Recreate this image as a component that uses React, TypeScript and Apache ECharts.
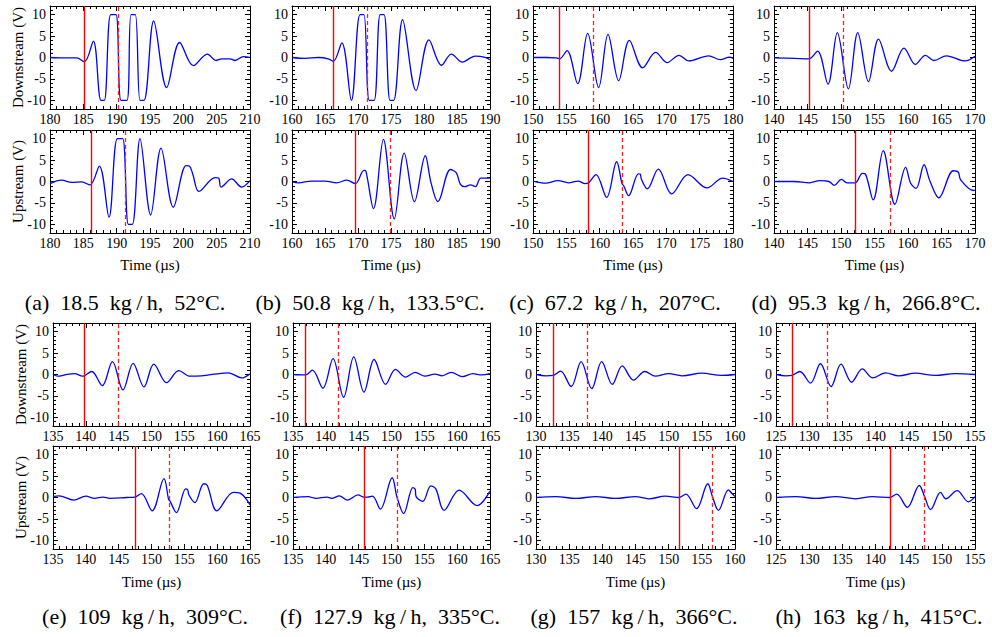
import React, { useEffect, useRef } from "react";
import * as echarts from "echarts";

// ---- x-axis starts (each window spans 30 µs) ----
const xMins = [180, 160, 150, 140, 135, 135, 130, 125];

const captions = [
  "(a)  18.5  kg\u2009/\u2009h,  52°C.",
  "(b)  50.8  kg\u2009/\u2009h,  133.5°C.",
  "(c)  67.2  kg\u2009/\u2009h,  207°C.",
  "(d)  95.3  kg\u2009/\u2009h,  266.8°C.",
  "(e)  109  kg\u2009/\u2009h,  309°C.",
  "(f)  127.9  kg\u2009/\u2009h,  335°C.",
  "(g)  157  kg\u2009/\u2009h,  366°C.",
  "(h)  163  kg\u2009/\u2009h,  415°C.",
];

// ---- marker times (µs): solid = onset, dashed = arrival ----
const onsetDown = [185.15, 166.25, 154.0, 145.2, 139.8, 136.9, 132.6, 127.4];
const arrivalDown = [190.25, 171.4, 159.05, 150.3, 145.0, 141.9, 137.8, 132.8];
const onsetUp = [186.2, 169.6, 158.35, 152.1, 147.5, 145.8, 151.6, 142.2];
const arrivalUp = [191.3, 174.9, 163.4, 157.3, 152.7, 150.85, 156.6, 147.4];

// ---- waveforms: [time µs, volts] ----
const aDown = [[180,0],[182,-0.1],[184,-0.1],[185.15,-1.0],[186.5,3.8],[187.65,-10],[188.15,-10],[189.1,10],[189.9,10],[190.65,-10],[191.55,-10],[192.15,10],[192.8,10],[193.5,-10],[194.1,-10],[195.55,8.5],[197.5,-7.0],[199.45,3.5],[201.5,-1.9],[203.6,0.8],[204.9,-0.7],[205.75,-0.3],[207,-0.3],[207.75,-0.7],[209,0.2],[210,0]];
const aUp = [[180,-0.5],[181.75,0.3],[183.25,-0.2],[184.75,-0.1],[186.0,-0.8],[187.4,3.6],[188.85,-8.3],[190.1,10],[190.9,10],[191.75,-10],[192.35,-10],[193.5,10],[195.1,-7.8],[196.65,7.8],[198.5,-6.0],[200.4,3.7],[200.9,3.6],[201.4,1.8],[202.35,-2.3],[204.75,0.9],[205.3,0.8],[205.65,-1.3],[207.25,0.6],[208.75,-1.3],[210,0.2]];
const bDown = [[160,0],[162,-0.2],[164,0],[165.5,-0.3],[166.25,-0.9],[167.55,3.4],[169.0,-10],[170.3,10],[170.9,10],[171.7,-10],[172.45,-10],[173.35,10],[173.95,10],[174.85,-10],[175.4,-10],[176.75,8.8],[178.8,-7.7],[180.75,4.1],[182.65,-1.8],[184.15,0.8],[185.8,-1.1],[187.05,-0.1],[187.8,0.3],[189.1,0.1],[190,-0.5]];
const bUp = [[160,-0.1],[161,-0.3],[162.95,0.1],[165,0.1],[166.75,-0.3],[168.3,0.3],[169.6,-0.5],[170.9,2.6],[171.2,2.4],[172.35,-6.3],[173.85,9.8],[175.5,-8.7],[177,6.6],[178.55,-4.7],[180.2,6.0],[181.05,-0.2],[182.1,-4.7],[184,2.8],[184.9,2.0],[185.5,-0.6],[186.15,-1.2],[187.05,-0.8],[187.8,-1.2],[188.6,0.8],[190,0.8]];
const cDown = [[150,0],[152,0],[153.5,-0.1],[154.0,-0.3],[155.1,1.6],[156.7,-6.1],[158.2,5.6],[159.85,-7.0],[161.25,5.4],[162.85,-5.4],[164.45,4.0],[166.45,-2.4],[168.4,1.2],[170.1,-1.2],[171.9,0.5],[173.35,-0.8],[176.35,0.4],[178.1,-0.5],[179.5,0.1],[180,-0.2]];
const cUp = [[150,0.1],[151.9,-0.4],[153.75,0.2],[155.3,-0.3],[156.8,0.1],[157.8,-0.5],[158.35,-0.3],[159.45,1.6],[161.05,-3.7],[162.55,4.6],[163.35,-0.5],[163.6,-1.0],[164.35,-3.3],[165.8,1.8],[166.1,1.7],[166.25,0.6],[167.15,-1.7],[168.8,2.9],[170.8,-2.9],[173.25,1.6],[176.1,-1.5],[178.45,0.8],[180,0]];
const dDown = [[140,-0.1],[143,-0.2],[145.2,-0.3],[146.5,1.5],[148.05,-6.2],[149.45,5.8],[151.1,-7.3],[152.5,5.8],[154.1,-5.6],[155.6,4.3],[157.55,-3.2],[159.4,2.2],[161.1,-1.6],[162.6,0.5],[163.85,-0.7],[165.75,0.4],[168.5,-0.8],[170,0.3]];
const dUp = [[140,0],[143,0],[145.3,-0.3],[146.8,0.2],[148.2,0],[149.0,-0.9],[150.05,0.5],[150.9,-0.3],[152.1,-0.3],[153.2,1.9],[153.6,1.8],[154.8,-4.3],[156.3,7.2],[158.05,-5.3],[159.65,3.3],[160.4,-0.4],[161.2,-1.6],[162.4,3.9],[163.3,0],[164.6,-3.8],[166.75,2.5],[167.5,2.2],[167.85,0.4],[169.75,-2.1],[170,-2.0]];
const eDown = [[135,0],[135.75,-0.4],[136.8,-0.1],[138.3,0.2],[139.5,-0.4],[139.8,-0.3],[140.9,0.7],[142.5,-2.6],[144.05,3.0],[145.65,-3.6],[147.2,2.6],[148.85,-2.9],[150.35,2.4],[152.3,-1.9],[154.15,0.9],[155.85,-0.4],[157.6,-0.3],[161.7,0.4],[163.75,-0.8],[165,0.2]];
const eUp = [[135,0.2],[135.9,0.4],[138.15,-0.6],[140,0.3],[141.35,-0.2],[142.6,0.1],[143.65,-0.2],[146.2,0],[147.5,0.1],[148.45,0.9],[150.1,-3.1],[151.9,4.4],[152.6,-0.4],[152.8,-0.8],[153.8,-3.5],[155.2,2.0],[155.5,1.8],[155.7,0.6],[156.6,-1.2],[157.95,3.2],[158.5,2.8],[159.95,-3.1],[162.45,1.2],[163.5,1.0],[165,-1.7]];
const fDown = [[135,0],[136.9,-0.1],[137.95,1.0],[139.55,-3.2],[141.1,3.7],[142.7,-5.3],[144.25,4.1],[145.8,-4.1],[147.35,3.5],[149.1,-2.3],[150.6,1.2],[152.15,-0.6],[153.6,0.5],[155.1,-0.4],[156.6,0.1],[157.7,-0.3],[159.1,0.5],[160.8,-0.5],[162.4,0.2],[163.7,-0.1],[165,0.2]];
const fUp = [[135,0],[137.3,0.2],[138.5,-0.2],[140.15,0.1],[140.9,-0.2],[142.05,0.4],[143.3,-0.6],[144.9,0.6],[145.8,0.1],[146.3,0.1],[147.1,0.3],[148.3,-2.7],[150.1,4.6],[150.85,0],[151.85,-3.7],[153.25,2.3],[153.6,1.9],[153.75,0.2],[154.75,-0.9],[156,2.7],[156.75,2.0],[158,-3.0],[160.3,1.7],[163.05,-1.9],[165,1.5]];
const gDown = [[130,0],[131.5,-0.3],[132.6,-0.2],[133.7,0.8],[135.3,-2.8],[136.8,3.0],[138.4,-3.3],[139.9,3.0],[141.5,-2.3],[143.0,2.0],[144.7,-1.3],[146.4,0.7],[148,-0.4],[150,0.2],[152,-0.3],[155,0.3],[158,-0.2],[160,0]];
const gUp = [[130,0],[133,0.2],[136,-0.2],[139,0.2],[142,-0.2],[145,0.2],[147,-0.3],[149.5,0.3],[151.6,0],[152.6,0.8],[154.2,-2.6],[155.9,3.2],[156.6,0.2],[157.5,-3.0],[159,1.8],[159.5,1.0],[160,0.2]];
const hDown = [[125,0],[126.5,-0.3],[127.4,-0.2],[128.6,0.7],[130.2,-2.0],[131.7,2.5],[133.3,-2.8],[134.8,2.4],[136.4,-1.8],[138,1.3],[139.6,-0.8],[141.5,0.4],[143.5,-0.3],[146,0.3],[149,-0.2],[152,0.2],[155,0]];
const hUp = [[125,0],[128,0.2],[131,-0.2],[134,0.2],[137,-0.3],[139.5,0.2],[142.2,0],[143.2,0.8],[144.8,-2.3],[146.6,2.8],[147.4,0.2],[148.3,-2.8],[149.8,1.2],[150.6,-0.3],[152.3,1.6],[154,-1.0],[155,0.2]];

const downData = [aDown, bDown, cDown, dDown, eDown, fDown, gDown, hDown];
const upData = [aUp, bUp, cUp, dUp, eUp, fUp, gUp, hUp];

const yTickValues = [-10, -5, 0, 5, 10];

// ---- layout ----
const colLeft = [[50, 292, 533, 774], [53, 293, 536, 776]];
const colWidth = [[200, 198, 200, 201], [197, 197, 199, 199]];
const rowTop = [[6, 130], [323, 446]];
const plotH = 103;
const captionX = [[125, 370, 615, 866], [145, 390, 634, 879]];
const captionY = [302, 616];
const timeY = [265, 582];

const SERIF = "Liberation Serif";

function buildOption() {
  const grid: any[] = [];
  const xAxis: any[] = [];
  const yAxis: any[] = [];
  const series: any[] = [];
  const graphic: any[] = [];

  for (let p = 0; p < 8; p++) {
    const row = p < 4 ? 0 : 1;
    const col = p % 4;
    const xMin = xMins[p];
    for (let k = 0; k < 2; k++) {
      const g = grid.length;
      const left = colLeft[row][col];
      const width = colWidth[row][col];
      const top = rowTop[row][k];
      grid.push({ left, top, width, height: plotH, containLabel: false });
      const xBase = {
        gridIndex: g,
        type: "value",
        min: xMin,
        max: xMin + 30,
        interval: 5,
        splitLine: { show: false },
        axisLine: { show: true, onZero: false, lineStyle: { color: "#000", width: 1 } },
        axisTick: { show: true, inside: true, length: 5, lineStyle: { color: "#000" } },
        minorTick: { show: true, splitNumber: 5, length: 3, lineStyle: { color: "#000" } },
      };
      xAxis.push({
        ...xBase,
        position: "bottom",
        axisLabel: { show: true, fontSize: 14, fontFamily: SERIF, color: "#000", margin: 3 },
      });
      xAxis.push({ ...xBase, position: "top", axisLabel: { show: false } });

      const yMajor = {
        gridIndex: g,
        type: "value",
        min: -12,
        max: 12,
        splitLine: { show: false },
        axisLine: { show: true, onZero: false, lineStyle: { color: "#000", width: 1 } },
        axisTick: { show: true, inside: true, length: 5, customValues: yTickValues, lineStyle: { color: "#000" } },
      };
      const yMinor = {
        gridIndex: g,
        type: "value",
        min: -12,
        max: 12,
        interval: 1,
        splitLine: { show: false },
        axisLine: { show: false, onZero: false },
        axisTick: { show: true, inside: true, length: 3, lineStyle: { color: "#000" } },
        axisLabel: { show: false },
      };
      const yIdx = yAxis.length;
      yAxis.push({
        ...yMajor,
        position: "left",
        axisLabel: { show: true, customValues: yTickValues, fontSize: 14, fontFamily: SERIF, color: "#000", margin: 4 },
      });
      yAxis.push({ ...yMinor, position: "left" });
      yAxis.push({ ...yMajor, position: "right", axisLabel: { show: false } });
      yAxis.push({ ...yMinor, position: "right" });

      const data = k === 0 ? downData[p] : upData[p];
      const onset = k === 0 ? onsetDown[p] : onsetUp[p];
      const arrival = k === 0 ? arrivalDown[p] : arrivalUp[p];
      series.push({
        type: "line",
        xAxisIndex: g * 2,
        yAxisIndex: yIdx,
        data,
        showSymbol: false,
        smooth: 0.35,
        lineStyle: { color: "#0000ff", width: 1.3 },
        markLine: {
          silent: true,
          symbol: ["none", "none"],
          label: { show: false },
          data: [
            { xAxis: onset, lineStyle: { color: "#ff0000", width: 1.4, type: "solid" } },
            { xAxis: arrival, lineStyle: { color: "#ff2020", width: 1.3, type: [4, 3] } },
          ],
        },
      });

      if (col === 0) {
        graphic.push({
          type: "text",
          x: row === 0 ? 18 : 21,
          y: top + plotH / 2,
          rotation: Math.PI / 2,
          style: {
            text: k === 0 ? "Downstream (V)" : "Upstream (V)",
            fontSize: 15,
            fontFamily: SERIF,
            fill: "#000",
            align: "center",
            verticalAlign: "middle",
          },
        });
      }
      if (k === 1) {
        graphic.push({
          type: "text",
          x: left + width / 2,
          y: timeY[row],
          style: {
            text: "Time (µs)",
            fontSize: 15,
            fontFamily: SERIF,
            fill: "#000",
            align: "center",
            verticalAlign: "middle",
          },
        });
      }
    }
    graphic.push({
      type: "text",
      x: captionX[row][col],
      y: captionY[row],
      style: {
        text: captions[p],
        fontSize: 22,
        fontFamily: SERIF,
        fill: "#000",
        align: "center",
        verticalAlign: "middle",
      },
    });
  }

  return {
    animation: false,
    backgroundColor: "#ffffff",
    grid,
    xAxis,
    yAxis,
    series,
    graphic,
  };
}

export default function App() {
  const ref = useRef<HTMLDivElement>(null);
  useEffect(() => {
    if (!ref.current) return;
    const chart = echarts.init(ref.current, undefined, { renderer: "svg" });
    chart.setOption(buildOption() as any);
    return () => chart.dispose();
  }, []);
  return (
    <div
      ref={ref}
      style={{ position: "fixed", left: 0, top: 0, width: 992, height: 637, background: "#fff" }}
    />
  );
}
